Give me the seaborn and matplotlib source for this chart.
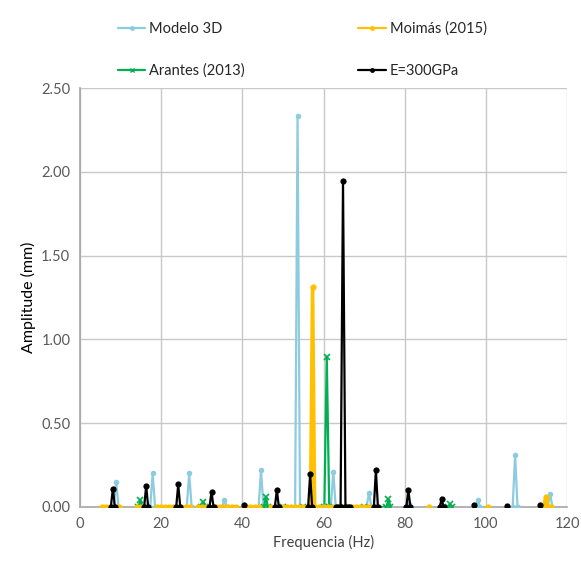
import numpy as np
import pandas as pd
import matplotlib
matplotlib.use("Agg")
import matplotlib.pyplot as plt
from matplotlib.lines import Line2D
from matplotlib.ticker import FormatStrFormatter
import seaborn as sns

# ---- data -------------------------------------------------------------
# each resonance peak is one short segment (seg id) rising from zero and back
modelo_freq = [8.3, 8.9, 9.5, 17.3, 17.9, 18.5, 26.3, 26.9, 27.5, 35.0, 35.6, 36.2,
               44.0, 44.6, 45.2, 53.0, 53.6, 54.2, 61.8, 62.4, 63.0, 70.6, 71.2, 71.8,
               80.4, 81.0, 81.6, 97.4, 98.0, 98.6, 106.6, 107.2, 107.8, 115.2, 115.8, 116.4]
modelo_amp = [0, 0.15, 0, 0, 0.20, 0, 0, 0.20, 0, 0, 0.04, 0,
              0, 0.22, 0, 0, 2.33, 0, 0, 0.21, 0, 0, 0.085, 0,
              0, 0.02, 0, 0, 0.04, 0, 0, 0.31, 0, 0, 0.08, 0]
modelo_seg = [1, 1, 1, 2, 2, 2, 3, 3, 3, 4, 4, 4,
              5, 5, 5, 6, 6, 6, 7, 7, 7, 8, 8, 8,
              9, 9, 9, 10, 10, 10, 11, 11, 11, 12, 12, 12]

arantes_freq = [14.4, 14.9, 15.4, 29.9, 30.4, 30.9, 45.3, 45.8, 46.3, 50.0, 55.0,
                60.2, 60.8, 61.4, 65.0, 70.0, 75.5, 76.0, 76.5, 90.7, 91.2, 91.7]
arantes_amp = [0, 0.04, 0, 0, 0.03, 0, 0, 0.06, 0, 0, 0,
               0, 0.897, 0, 0, 0, 0, 0.045, 0, 0, 0.015, 0]
arantes_seg = [1, 1, 1, 2, 2, 2, 3, 3, 3, 3, 3,
               3, 3, 3, 3, 3, 3, 3, 3, 4, 4, 4]

moimas_freq = [5.5, 6.5, 7.5, 8.5, 9.5,
               14.0, 15.0, 16.0,
               19.0, 20.0, 21.0, 22.0, 23.0, 24.0, 25.0, 26.0, 27.0,
               29.0, 30.0, 31.0,
               33.5, 34.5, 35.5, 36.5, 37.5, 38.5,
               41.0, 42.0, 43.0, 44.0,
               47.0, 48.0, 49.0, 50.0, 51.0, 52.0, 53.0, 54.0, 55.0, 56.0, 56.8, 57.3, 57.8,
               59.0, 60.0, 61.0, 62.0, 63.0, 64.0, 65.0, 66.0, 67.0, 68.0, 69.0, 70.0,
               71.0, 72.0, 73.0,
               86.0,
               100.6,
               114.2, 114.8, 115.4, 116.0]
moimas_amp = [0, 0, 0, 0, 0,
              0, 0, 0,
              0, 0, 0, 0, 0, 0, 0, 0, 0,
              0, 0, 0,
              0, 0, 0, 0, 0, 0,
              0, 0, 0, 0,
              0, 0, 0, 0, 0, 0, 0, 0, 0, 0, 0, 1.31, 0,
              0, 0, 0, 0, 0, 0, 0, 0, 0, 0, 0, 0,
              0, 0, 0,
              0,
              0,
              0, 0.06, 0, 0]
moimas_seg = [1, 1, 1, 1, 1,
              2, 2, 2,
              3, 3, 3, 3, 3, 3, 3, 3, 3,
              4, 4, 4,
              5, 5, 5, 5, 5, 5,
              6, 6, 6, 6,
              7, 7, 7, 7, 7, 7, 7, 7, 7, 7, 7, 7, 7,
              7, 7, 7, 7, 7, 7, 7, 7, 7, 7, 7, 7,
              7, 7, 7,
              8,
              9,
              10, 10, 10, 10]

e300_freq = [7.6, 8.1, 8.6, 15.8, 16.3, 16.8, 23.7, 24.2, 24.7, 31.9, 32.4, 32.9,
             40.5, 48.0, 48.5, 49.0, 56.2, 56.7, 57.2,
             63.0, 63.6, 64.2, 64.8, 65.4, 66.0, 66.6,
             72.4, 72.9, 73.4, 80.4, 80.9, 81.4, 88.6, 89.1, 89.6,
             97.1, 105.1, 113.4]
e300_amp = [0, 0.11, 0, 0, 0.125, 0, 0, 0.135, 0, 0, 0.09, 0,
            0.01, 0, 0.10, 0, 0, 0.195, 0,
            0, 0, 0, 1.947, 0, 0, 0,
            0, 0.22, 0, 0, 0.10, 0, 0, 0.045, 0,
            0.01, 0.005, 0.01]
e300_seg = [1, 1, 1, 2, 2, 2, 3, 3, 3, 4, 4, 4,
            5, 6, 6, 6, 7, 7, 7,
            8, 8, 8, 8, 8, 8, 8,
            9, 9, 9, 10, 10, 10, 11, 11, 11,
            12, 13, 14]

labels = ["Modelo 3D", "Arantes (2013)", "Moimás (2015)", "E=300GPa"]
colors = ["#8dcbdf", "#00b050", "#ffc000", "#000000"]
markers = ["o", "x", "o", "o"]

x_ticks = [0, 20, 40, 60, 80, 100, 120]
y_ticks = [0.0, 0.5, 1.0, 1.5, 2.0, 2.5]

# ---- figure -----------------------------------------------------------
sns.set_style("white")
plt.rcParams["font.family"] = ["Lato", "DejaVu Sans"]

fig = plt.figure(figsize=(5.81, 5.62), dpi=100)
ax = fig.add_axes([0.1377, 0.0979, 0.8383, 0.7455])

df_modelo = pd.DataFrame({"f": modelo_freq, "a": modelo_amp, "seg": modelo_seg})
df_arantes = pd.DataFrame({"f": arantes_freq, "a": arantes_amp, "seg": arantes_seg})
df_moimas = pd.DataFrame({"f": moimas_freq, "a": moimas_amp, "seg": moimas_seg})
df_e300 = pd.DataFrame({"f": e300_freq, "a": e300_amp, "seg": e300_seg})

common = dict(units="seg", estimator=None, sort=False, ax=ax, legend=False)
sns.lineplot(data=df_modelo, x="f", y="a", color=colors[0], lw=1.6, zorder=3,
             marker=markers[0], markersize=4, markeredgewidth=0, **common)
sns.lineplot(data=df_arantes, x="f", y="a", color=colors[1], lw=1.6, zorder=4,
             marker=markers[1], markersize=4, markeredgewidth=1.2,
             markeredgecolor=colors[1], **common)
sns.lineplot(data=df_moimas, x="f", y="a", color=colors[2], lw=2.6, zorder=5,
             marker=markers[2], markersize=4.5, markeredgewidth=0, **common)
sns.lineplot(data=df_e300, x="f", y="a", color=colors[3], lw=1.6, zorder=6,
             marker=markers[3], markersize=4.5, markeredgewidth=0, **common)

ax.set_xlim(0, 120)
ax.set_ylim(0, 2.5)
ax.set_xticks(x_ticks)
ax.set_yticks(y_ticks)
ax.yaxis.set_major_formatter(FormatStrFormatter("%.2f"))
ax.xaxis.set_major_formatter(FormatStrFormatter("%d"))
ax.grid(True, color="#c8c8c8", lw=1.0, zorder=0)
ax.set_axisbelow(True)
for side in ["top", "right"]:
    ax.spines[side].set_visible(False)
for side in ["left", "bottom"]:
    ax.spines[side].set_color("#a6a6a6")
    ax.spines[side].set_linewidth(1.2)
ax.tick_params(axis="both", length=0, labelsize=10.5, labelcolor="#595959", pad=7)

ax.set_xlabel("Frequencia (Hz)", fontsize=10.5, color="#404040", labelpad=3)
ax.set_ylabel("Amplitude (mm)", fontsize=11.5, color="#000000", labelpad=4)

handles = [Line2D([0], [0], color=c, lw=1.6, marker=m, markersize=3.5,
                  markeredgecolor=c, markeredgewidth=1 if m == "x" else 0)
           for c, m in zip(colors, markers)]
fig.legend(handles, labels, loc="upper left", bbox_to_anchor=(0.18, 0.985),
           ncol=2, frameon=False, fontsize=10.5, handlelength=1.9,
           handletextpad=0.25, labelspacing=1.9, columnspacing=7.8,
           labelcolor="#262626")

fig.savefig("out.png", dpi=100)
